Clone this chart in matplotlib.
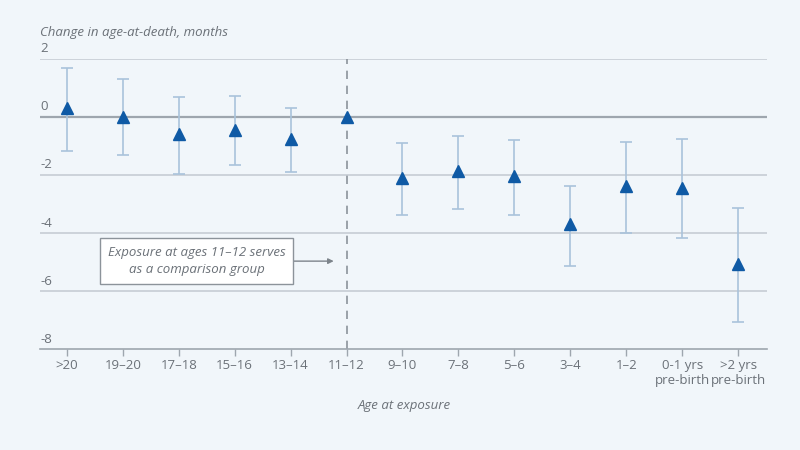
import numpy as np
import matplotlib
matplotlib.use('Agg')
import matplotlib.pyplot as plt
import matplotlib.transforms as mtransforms

plt.rc('font', family='Open Sans', size=9.5)

# age-at-exposure groups and estimates (months)
grupos = ['>20', '19–20', '17–18', '15–16', '13–14', '11–12', '9–10', '7–8',
          '5–6', '3–4', '1–2', '0-1 yrs\npre-birth', '>2 yrs\npre-birth']
estimativa = [0.31, 0.0, -0.6, -0.45, -0.76, 0.0, -2.1, -1.86, -2.05, -3.7, -2.38, -2.44, -5.07]
ic_sup = [1.69, 1.30, 0.69, 0.72, 0.31, np.nan, -0.90, -0.65, -0.80, -2.37, -0.85, -0.76, -3.14]
ic_inf = [-1.17, -1.31, -1.97, -1.66, -1.90, np.nan, -3.38, -3.17, -3.38, -5.14, -4.00, -4.17, -7.08]
yticks = [2, 0, -2, -4, -6, -8]

fundo = '#f1f6fa'
cinza_texto = '#6b7178'
azul = '#0f5aa5'
azul_claro = '#a9c3db'

fig = plt.figure(figsize=(8, 4.5), dpi=100, facecolor=fundo)
ax = fig.add_axes([0.05, 0.2244, 0.909, 0.6446])
ax.set_facecolor(fundo)

x = np.arange(len(grupos))
est = np.array(estimativa)
sup = np.array(ic_sup)
inf = np.array(ic_inf)
tem_ic = ~np.isnan(sup)

# grid lines
for v in yticks:
    if v == 0:
        ax.axhline(v, color='#9ea6ae', lw=1.6, zorder=1)
    elif v == -8:
        continue
    else:
        ax.axhline(v, color='#c6cdd4', lw=1.2, zorder=1)

# comparison group line
ax.axvline(5, color='#8c939a', lw=1.2, ls=(0, (5, 4)), zorder=1)

ax.errorbar(x[tem_ic], est[tem_ic],
            yerr=[est[tem_ic] - inf[tem_ic], sup[tem_ic] - est[tem_ic]],
            fmt='none', ecolor=azul_claro, elinewidth=1.2, capsize=4, capthick=1.2, zorder=2)
ax.plot(x, est, ls='none', marker='^', ms=9, color=azul, zorder=3)

ax.set_xlim(-0.48, 12.52)
ax.set_ylim(-8, 2)

for s in ['top', 'right', 'left']:
    ax.spines[s].set_visible(False)
ax.spines['bottom'].set_color('#9ea6ae')
ax.spines['bottom'].set_linewidth(1.2)

ax.set_yticks([])
ax.set_xticks(x)
ax.set_xticklabels(grupos, color=cinza_texto, fontsize=9.5, linespacing=1.25)
ax.tick_params(axis='x', length=5, width=1, color='#9ea6ae', pad=2)

# y labels above lines
trans = mtransforms.blended_transform_factory(ax.transAxes, ax.transData)
for v in yticks:
    ax.text(0.0, v + 0.12, str(v), transform=trans, ha='left', va='bottom',
            color=cinza_texto, fontsize=9.5)

fig.text(0.05, 0.928, 'Change in age-at-death, months', ha='left', va='center',
         style='italic', color=cinza_texto, fontsize=9.5)
fig.text(0.505, 0.1, 'Age at exposure', ha='center', va='center',
         style='italic', color=cinza_texto, fontsize=9.5)

# annotation box
ax.annotate('', xy=(4.82, -4.97), xytext=(3.98, -4.97),
            arrowprops=dict(arrowstyle='-|>', color='#7d848b', lw=1, mutation_scale=8))
ax.text(2.32, -4.97, 'Exposure at ages 11–12 serves\nas a comparison group',
        ha='center', va='center', style='italic', color=cinza_texto, fontsize=9.5,
        linespacing=1.4,
        bbox=dict(boxstyle='square,pad=0.6', fc='white', ec='#8c939a', lw=1))

fig.savefig('out.png', dpi=100, facecolor=fundo)
